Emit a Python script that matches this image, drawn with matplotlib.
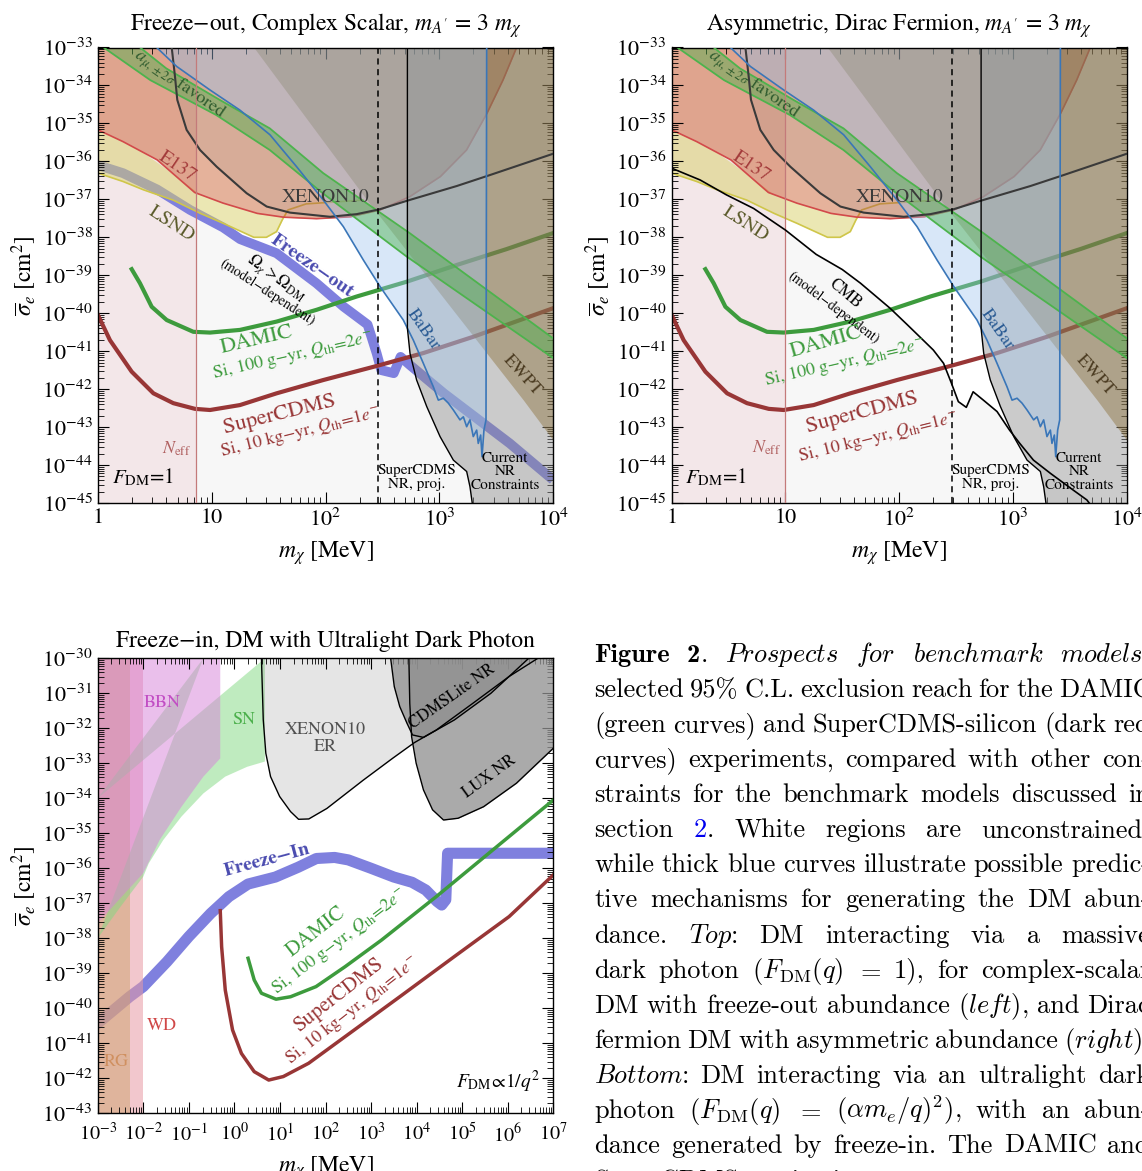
import matplotlib
matplotlib.use("Agg")
import matplotlib.pyplot as plt
from matplotlib.ticker import LogLocator, NullFormatter, FuncFormatter
import numpy as np

plt.rcParams["font.family"] = ["STIXGeneral", "DejaVu Serif"]
plt.rcParams["mathtext.fontset"] = "stix"
plt.rcParams["axes.linewidth"] = 1.0

W, H = 1142, 1171

# ---------------- top row: heavy dark photon, F_DM = 1 ----------------
# every curve is stored as log10(m_chi / MeV), log10(sigma_e / cm^2)
neff_scalar = 0.86
neff_dirac = 1.0
nr_proj_m = 2.465

e137_m = [0.00, 0.22, 0.52, 0.85, 1.10, 1.40, 1.63, 1.92, 2.22, 2.48, 2.74, 3.01, 3.24, 3.42, 3.56, 3.68]
e137_s = [-35.17, -35.48, -35.96, -36.82, -37.10, -37.37, -37.47, -37.51, -37.46, -37.28, -36.93, -36.40, -35.70, -34.73, -33.86, -33.00]

lsnd_m = [0.00, 0.22, 0.40, 0.66, 0.90, 1.10, 1.37, 1.48, 1.57, 1.62, 1.67, 1.83, 2.33]
lsnd_s = [-36.31, -36.53, -36.75, -37.02, -37.37, -37.63, -38.00, -38.00, -37.85, -37.54, -37.28, -37.12, -37.02]

amu_up_m = [0.37, 0.60, 1.07, 1.51, 1.98, 2.74, 4.00]
amu_up_s = [-33.00, -33.55, -34.38, -35.13, -36.31, -37.89, -40.66]
amu_lo_m = [0.05, 0.46, 1.04, 1.51, 1.98, 2.71, 4.00]
amu_lo_s = [-33.00, -33.86, -34.78, -35.70, -36.85, -38.50, -41.18]

xe_m = [0.648, 0.677, 0.697, 0.779, 0.897, 1.043, 1.190, 1.307, 1.483, 1.688, 2.040, 2.274, 2.479, 2.714, 3.153, 3.446, 4.000]
xe_s = [-33.00, -33.77, -34.38, -35.17, -35.70, -36.14, -36.53, -36.84, -37.19, -37.35, -37.46, -37.39, -37.26, -37.04, -36.65, -36.36, -35.80]

babar_m = [0.516, 0.692, 0.985, 1.248, 1.512, 1.746, 1.981, 2.157, 2.333,
           2.48, 2.684, 2.772, 2.860, 2.948, 2.992, 3.036, 3.080, 3.124, 3.182, 3.212,
           3.241, 3.270, 3.299, 3.329, 3.343, 3.364, 3.376, 3.393, 3.411, 3.417]
babar_s = [-33.00, -33.50, -34.12, -34.65, -35.30, -36.14, -37.02, -37.72, -38.60,
           -39.30, -40.18, -40.71, -41.32, -41.94, -42.29, -42.24, -42.37, -42.55, -42.81, -42.73,
           -42.99, -42.81, -43.25, -43.08, -43.43, -43.21, -43.78, -43.08, -42.81, -33.00]

ewpt_m = [1.37, 2.36, 3.74, 4.00]
ewpt_s = [-33.00, -37.00, -42.29, -43.34]

nr_m = [2.72, 2.72, 2.743, 2.801, 2.890, 3.007, 3.124, 3.241, 3.270, 3.29]
nr_s = [-33.00, -40.40, -41.06, -41.76, -42.46, -43.25, -43.87, -44.17, -44.57, -45.00]

fo_m = [0.00, 0.22, 0.52, 0.81, 1.10, 1.25, 1.57, 1.92, 2.16, 2.37, 2.45, 2.49, 2.60, 2.66, 2.74, 3.04, 3.33, 3.62, 4.00]
fo_s = [-36.10, -36.31, -36.74, -37.28, -37.74, -38.05, -38.42, -39.21, -39.83, -40.30, -41.06, -41.50, -41.58, -41.15, -41.36, -42.11, -42.77, -43.43, -44.39]

cmb_m = [0.00, 0.25, 0.48, 0.72, 1.00, 1.27, 1.50, 1.66, 1.92, 2.07, 2.18, 2.30, 2.39, 2.46, 2.52,
         2.59, 2.65, 2.74, 2.86, 2.97, 3.06, 3.18, 3.33, 3.53, 3.65, 3.67]
cmb_s = [-36.18, -36.49, -36.88, -37.24, -37.81, -38.45, -38.85, -39.21, -39.87, -40.30, -40.62, -40.97, -41.32, -41.85, -42.33,
         -42.48, -42.07, -42.29, -42.59, -43.08, -43.43, -43.87, -44.22, -44.66, -44.92, -45.00]

damic_m = [0.296, 0.369, 0.472, 0.604, 0.838, 0.985, 1.248, 1.571, 1.922, 2.274, 2.714, 3.153, 3.593, 4.000]
damic_s = [-38.84, -39.21, -39.83, -40.18, -40.49, -40.51, -40.44, -40.22, -39.91, -39.56, -39.17, -38.73, -38.31, -37.89]

cdms_m = [0.000, 0.105, 0.296, 0.487, 0.662, 0.853, 0.985, 1.248, 1.571, 1.981, 2.450, 2.860, 3.300, 4.000]
cdms_s = [-40.05, -40.71, -41.54, -42.11, -42.37, -42.52, -42.55, -42.42, -42.11, -41.76, -41.39, -41.05, -40.62, -39.87]

# ---------------- bottom row: ultralight dark photon, F_DM ~ 1/q^2 ----------------
rg_edge = -2.30
wd_edge = -2.00
bbn_edge = -0.31
sn_edge = 0.67

bbn_m = [-3.00, -2.50, -2.00, -1.64, -1.16, -0.68, -0.31]
bbn_s = [-37.57, -36.85, -36.14, -35.19, -34.24, -33.38, -32.86]
sn_lo_m = [-3.00, -2.50, -2.00, -1.88, -1.56, -1.16, -0.68, -0.20, 0.28, 0.67]
sn_lo_s = [-38.00, -37.10, -36.24, -35.86, -35.19, -34.52, -33.86, -33.38, -33.10, -32.95]
sn_hi_m = [-3.00, -0.68]
sn_hi_s = [-34.00, -30.00]

xer_m = [0.594, 0.634, 0.690, 0.794, 0.994, 1.233, 1.409, 1.633, 2.03, 2.83, 3.47, 3.95, 4.43, 5.23, 6.03, 6.66]
xer_s = [-30.00, -31.76, -32.71, -33.38, -33.95, -34.38, -34.60, -34.59, -34.29, -33.48, -32.86, -32.41, -32.05, -31.29, -30.52, -30.00]

lite_m = [3.43, 3.51, 3.63, 3.79, 3.91, 4.15, 4.83, 5.63, 6.46]
lite_s = [-30.00, -30.81, -31.38, -31.86, -32.19, -32.26, -31.76, -31.00, -30.00]

lux_m = [3.83, 3.85, 3.89, 3.99, 4.15, 4.35, 4.59, 4.91, 5.47, 6.19, 7.00]
lux_s = [-30.00, -31.29, -32.24, -33.00, -33.76, -34.33, -34.62, -34.57, -34.24, -33.57, -32.57]

fi_m = [-3.00, -2.30, -2.00, -1.48, -1.00, -0.52, -0.12, 0.30, 0.90, 1.40, 1.80, 2.20, 2.50, 3.00,
        3.50, 3.90, 4.20, 4.45, 4.55, 4.64, 4.68, 7.00]
fi_s = [-40.43, -39.67, -39.38, -38.67, -37.95, -37.29, -36.81, -36.45, -36.25, -35.97, -35.72, -35.69, -35.76, -36.00,
        -36.25, -36.40, -36.62, -36.95, -37.05, -36.90, -35.57, -35.57]

bd_m = [0.30, 0.435, 0.594, 0.914, 1.233, 1.792, 2.431, 3.23, 4.43, 7.00]
bd_s = [-38.57, -39.19, -39.57, -39.74, -39.67, -39.38, -38.81, -38.05, -36.81, -34.05]

bc_m = [-0.31, -0.28, -0.20, -0.04, 0.155, 0.435, 0.754, 1.074, 1.63, 2.43, 3.63, 4.83, 6.03, 7.00]
bc_s = [-37.21, -38.24, -39.48, -40.62, -41.29, -41.81, -42.05, -41.95, -41.57, -40.81, -39.67, -38.52, -37.38, -36.19]

GREEN = "#3d9b3d"
DRED = "#983636"
BLUE = "#7f80de"


def L(v):
    return np.power(10.0, np.asarray(v, dtype=float))


fig = plt.figure(figsize=(W / 100, H / 100), dpi=100)


def px_axes(x0, y0, x1, y1):
    return fig.add_axes([x0 / W, 1 - y1 / H, (x1 - x0) / W, (y1 - y0) / H])


def style(ax, xlo, xhi, ylo, yhi, xfmt=None, xsize=16, xpad=4):
    ax.set_xscale("log")
    ax.set_yscale("log")
    ax.set_xlim(L(xlo), L(xhi))
    ax.set_ylim(L(ylo), L(yhi))
    for a in (ax.xaxis, ax.yaxis):
        a.set_major_locator(LogLocator(base=10, numticks=40))
        a.set_minor_locator(LogLocator(base=10, subs=np.arange(2, 10), numticks=40))
        a.set_minor_formatter(NullFormatter())
    if xfmt is not None:
        ax.xaxis.set_major_formatter(FuncFormatter(xfmt))
    ax.tick_params(which="both", direction="in", top=True, right=True, labelsize=16, pad=4)
    ax.tick_params(axis="x", labelsize=xsize, pad=xpad)
    ax.tick_params(which="major", length=8, width=0.8)
    ax.tick_params(which="minor", length=4, width=0.6)
    ax.set_xlabel(r"$m_\chi$ [MeV]", fontsize=17, labelpad=6)
    ax.set_ylabel(r"$\overline{\sigma}_e$ [cm$^2$]", fontsize=17, labelpad=2)


def top_fmt(v, pos):
    e = int(round(np.log10(v)))
    return {0: "1", 1: "10"}.get(e, r"$10^{%d}$" % e)


def txt(ax, lm, ls, s, **kw):
    kw.setdefault("ha", "center")
    kw.setdefault("va", "center")
    kw.setdefault("zorder", 6)
    ax.text(L(lm), L(ls), s, rotation_mode="anchor", **kw)


def top_panel(ax, neff_m, model_m, model_s, freeze_line):
    top, bot = L(-33), L(-45)
    # region below the relic curve is lightly shaded, above stays white
    ax.fill_between(L(model_m), bot, L(model_s), color="#f7f7f7", lw=0, zorder=0.5)
    ax.axvspan(1, L(neff_m), color="#f3e7e9", lw=0, zorder=0.6)
    if freeze_line:
        ax.plot(L(model_m), L(model_s), color=BLUE, lw=7, solid_capstyle="butt", zorder=1.0)
    # LSND only shows below the E137 contour
    e137_at_lsnd = np.interp(lsnd_m, e137_m, e137_s)
    ax.fill_between(L(lsnd_m), L(lsnd_s), L(np.maximum(e137_at_lsnd, lsnd_s)),
                    color="#d9d169", alpha=0.5, lw=0, zorder=1.1)
    ax.plot(L(lsnd_m), L(lsnd_s), color="#cfc64a", lw=1.2, zorder=1.15)
    ax.fill_between(L(e137_m), L(e137_s), top, color="#c75421", alpha=0.45, lw=0, zorder=1.2)
    ax.plot(L(e137_m), L(e137_s), color="#d24a4a", lw=1.2, zorder=1.25)
    ax.fill_between(L(xe_m), L(xe_s), top, color="#8a8a8a", alpha=0.15, lw=0, zorder=1.3)

    ax.plot(L(damic_m), L(damic_s), color=GREEN, lw=3, zorder=2.0)
    ax.plot(L(cdms_m), L(cdms_s), color=DRED, lw=3, zorder=2.0)

    ax.fill(np.r_[L(nr_m), 1e4, 1e4], np.r_[L(nr_s), bot, top], color="#8c8c8c", alpha=0.45, lw=0, zorder=2.1)
    ax.fill_between(L(ewpt_m), L(ewpt_s), top, color="#806020", alpha=0.38, lw=0, zorder=2.2)
    ax.fill_between(L(babar_m), L(babar_s), top, color="#9ec4ee", alpha=0.4, lw=0, zorder=2.3)
    ax.fill(np.r_[L(amu_up_m), L(amu_lo_m)[::-1]], np.r_[L(amu_up_s), L(amu_lo_s)[::-1]],
            color="#4cb04c", alpha=0.45, lw=0, zorder=2.4)

    # boundaries
    ax.plot(L(amu_up_m), L(amu_up_s), color="#4db34d", lw=1.3, zorder=3)
    ax.plot(L(amu_lo_m), L(amu_lo_s), color="#4db34d", lw=1.3, zorder=3)
    ax.plot(L(xe_m), L(xe_s), color="#3a3a3a", lw=1.5, zorder=3)
    ax.plot(L(babar_m), L(babar_s), color="#3a76b8", lw=1.2, zorder=3)
    ax.plot(L(nr_m), L(nr_s), color="black", lw=1.0, zorder=3)
    ax.axvline(L(nr_proj_m), color="black", lw=1.1, ls=(0, (4, 3)), zorder=3)
    ax.axvline(L(neff_m), color="#c47a7a", lw=0.9, zorder=3)
    if not freeze_line:
        ax.plot(L(model_m), L(model_s), color="black", lw=1.2, zorder=3)

    txt(ax, 0.72, -33.99, r"$a_{\mu,\pm 2\sigma}$ favored", fontsize=13, color="#2d5a2d", rotation=-35)
    txt(ax, 0.70, -36.14, "E137", fontsize=14, color="#a33a3a", rotation=-34)
    txt(ax, 0.65, -37.65, "LSND", fontsize=14, color="#5a5a2a", rotation=-33)
    txt(ax, 2.00, -36.96, "XENON10", fontsize=14, color="#3a3a3a")
    txt(ax, 2.86, -40.44, "BaBar", fontsize=13, color="#2b5c94", rotation=-55)
    txt(ax, 3.725, -41.63, "EWPT", fontsize=13, color="#4a3a20", rotation=-48)
    txt(ax, 2.80, -44.32, "SuperCDMS\nNR, proj.", fontsize=11, linespacing=1.05)
    txt(ax, 3.58, -44.17, "Current\nNR\nConstraints", fontsize=11, linespacing=1.0)
    txt(ax, 0.12, -44.34, r"$F_{\rm DM}$=1", fontsize=15, ha="left")


# ---------------- top left ----------------
ax1 = px_axes(98, 47.5, 553, 503)
top_panel(ax1, neff_scalar, fo_m, fo_s, True)
style(ax1, 0, 4, -45, -33, top_fmt)
ax1.set_title("Freeze\u2212out, Complex Scalar, $m_{A'}$ = 3 $m_\\chi$", fontsize=17, pad=12)
txt(ax1, 0.686, -43.58, r"$N_{\rm eff}$", fontsize=13, color="#b06060")
txt(ax1, 1.884, -38.77, "Freeze\u2212out", fontsize=14, color="#4b4cb0", fontweight="bold", rotation=-35)
txt(ax1, 1.571, -39.08, r"$\Omega_\chi > \Omega_{\rm DM}$", fontsize=12, rotation=-36)
txt(ax1, 1.488, -39.45, "(model\u2212dependent)", fontsize=10, rotation=-33)
txt(ax1, 1.395, -40.71, "DAMIC", fontsize=16, color=GREEN, rotation=13)
txt(ax1, 1.715, -41.12, r"Si, 100 g$-$yr, $Q_{\rm th}$=2$e^{-}$", fontsize=13, color=GREEN, rotation=13)
txt(ax1, 1.60, -42.66, "SuperCDMS", fontsize=16, color=DRED, rotation=14)
txt(ax1, 1.776, -43.12, r"Si, 10 kg$-$yr, $Q_{\rm th}$=1$e^{-}$", fontsize=13, color=DRED, rotation=14)

# ---------------- top right ----------------
ax2 = px_axes(671.7, 47.5, 1126.7, 503)
top_panel(ax2, neff_dirac, cmb_m, cmb_s, False)
style(ax2, 0, 4, -45, -33, top_fmt)
ax2.set_title("Asymmetric, Dirac Fermion, $m_{A'}$ = 3 $m_\\chi$", fontsize=17, pad=12)
txt(ax2, 0.835, -43.55, r"$N_{\rm eff}$", fontsize=13, color="#b06060")
txt(ax2, 1.525, -39.48, "CMB", fontsize=12, rotation=-40)
txt(ax2, 1.42, -39.85, "(model\u2212dependent)", fontsize=10, rotation=-37)
txt(ax2, 1.357, -40.75, "DAMIC", fontsize=16, color=GREEN, rotation=16)
txt(ax2, 1.52, -41.30, r"Si, 100 g$-$yr, $Q_{\rm th}$=2$e^{-}$", fontsize=13, color=GREEN, rotation=13)
txt(ax2, 1.67, -42.63, "SuperCDMS", fontsize=16, color=DRED, rotation=15)
txt(ax2, 1.815, -43.26, r"Si, 10 kg$-$yr, $Q_{\rm th}$=1$e^{-}$", fontsize=13, color=DRED, rotation=14)

# ---------------- bottom ----------------
ax3 = px_axes(97.7, 658.3, 553.3, 1113.3)
b_top, b_bot = L(-30), L(-43)
ax3.plot(L(fi_m), L(fi_s), color=BLUE, lw=8, solid_joinstyle="round", zorder=1.0)
ax3.axvspan(L(-3), L(wd_edge), color="#e89aa4", alpha=0.55, lw=0, zorder=1.1)
ax3.axvspan(L(-3), L(rg_edge), color="#cea26d", alpha=0.5, lw=0, zorder=1.2)
ax3.fill(np.r_[L(sn_hi_m)[::-1], L(sn_edge), L(sn_lo_m)[::-1]],
         np.r_[L(sn_hi_s)[::-1], b_top, L(sn_lo_s)[::-1]],
         color="#81d981", alpha=0.5, lw=0, zorder=1.3)
ax3.fill(np.r_[L(-3), L(bbn_edge), L(bbn_m)[::-1]], np.r_[b_top, b_top, L(bbn_s)[::-1]],
         color="#d781d9", alpha=0.5, lw=0, zorder=1.35)
ax3.fill_between(L(xer_m), L(xer_s), b_top, color="#909090", alpha=0.23, lw=0, zorder=1.5)
ax3.fill_between(L(lite_m), L(lite_s), b_top, color="#909090", alpha=0.76, lw=0, zorder=1.55)
ax3.fill_between(L(lux_m), L(lux_s), b_top, color="#909090", alpha=0.76, lw=0, zorder=1.6)
for mm, ss in ((xer_m, xer_s), (lite_m, lite_s), (lux_m, lux_s)):
    ax3.plot(L(mm), L(ss), color="black", lw=1.0, zorder=3)
ax3.plot(L(bd_m), L(bd_s), color=GREEN, lw=2.5, zorder=2)
ax3.plot(L(bc_m), L(bc_s), color=DRED, lw=2.5, zorder=2)
style(ax3, -3, 7, -43, -30, xsize=14.5, xpad=6.5)
ax3.set_title("Freeze\u2212in, DM with Ultralight Dark Photon", fontsize=17, pad=8)

txt(ax3, -1.59, -31.27, "BBN", fontsize=13, color="#c24ec4")
txt(ax3, 0.20, -31.76, "SN", fontsize=13, color="#4cb04c")
txt(ax3, 2.00, -32.29, "XENON10\nER", fontsize=13, color="#505050", linespacing=1.05)
txt(ax3, 4.79, -31.10, "CDMSLite NR", fontsize=12, rotation=35)
txt(ax3, 5.59, -33.38, "LUX NR", fontsize=12, rotation=36)
txt(ax3, 0.72, -35.78, "Freeze\u2212In", fontsize=14, color="#4b4cb0", fontweight="bold", rotation=15)
txt(ax3, 1.79, -37.81, "DAMIC", fontsize=15, color=GREEN, rotation=38)
txt(ax3, 2.32, -38.10, r"Si, 100 g$-$yr, $Q_{\rm th}$=2$e^{-}$", fontsize=13, color=GREEN, rotation=37)
txt(ax3, 2.28, -39.62, "SuperCDMS", fontsize=15, color=DRED, rotation=38)
txt(ax3, 2.60, -40.05, r"Si, 10 kg$-$yr, $Q_{\rm th}$=1$e^{-}$", fontsize=13, color=DRED, rotation=38)
txt(ax3, -1.59, -40.50, "WD", fontsize=13, color="#d04848")
txt(ax3, -2.59, -41.52, "RG", fontsize=13, color="#d09060")
txt(ax3, 5.79, -42.10, r"$F_{\rm DM}\!\propto\!1/q^2$", fontsize=14)

# ---------------- caption, justified to the column ----------------
cap_x0, cap_x1 = 594, 1150
cap_base, cap_step = 662, 35.07
cap_lines = [
    [[("Figure", "black", "cmb10")], [("2", "black", "cmb10"), (".", "black", "cmr10")],
     r"$\mathit{Prospects}$", r"$\mathit{for}$", r"$\mathit{benchmark}$", r"$\mathit{models,}$"],
    "selected 95% C.L. exclusion reach for the DAMIC".split(),
    "(green curves) and SuperCDMS-silicon (dark red".split(),
    "curves) experiments, compared with other con-".split(),
    "straints for the benchmark models discussed in".split(),
    ["section", [("2", "#0000ee", "cmr10"), (".", "black", "cmr10")], "White", "regions", "are", "unconstrained,"],
    "while thick blue curves illustrate possible predic-".split(),
    "tive mechanisms for generating the DM abun-".split(),
    ["dance.", r"$\mathit{Top}$:", "DM", "interacting", "via", "a", "massive"],
    ["dark", "photon", r"$(F_{\rm DM}(q)$", "$=$", "1),", "for", "complex-scalar"],
    ["DM", "with", "freeze-out", "abundance", r"$(\mathit{left})$,", "and", "Dirac"],
    ["fermion", "DM", "with", "asymmetric", "abundance", r"$(\mathit{right})$."],
    [r"$\mathit{Bottom}$:", "DM", "interacting", "via", "an", "ultralight", "dark"],
    ["photon", r"$(F_{\rm DM}(q)$", "$=$", r"$(\alpha m_e/q)^2$),", "with", "an", "abun-"],
    "dance generated by freeze-in. The DAMIC and".split(),
    "SuperCDMS projections assume 100 g-yr and".split(),
]

rend = fig.canvas.get_renderer()
for i, words in enumerate(cap_lines):
    yb = 1 - (cap_base + i * cap_step) / H
    placed = []
    total = 0.0
    for w in words:
        segs = w if isinstance(w, list) else [(w, "black", "cmr10")]
        objs = []
        for s, c, fam in segs:
            t = fig.text(0.6, yb, s, fontsize=19, family=fam, math_fontfamily="cm",
                         color=c, ha="left", va="baseline")
            wd = t.get_window_extent(renderer=rend).width
            objs.append((t, wd))
            total += wd
        placed.append(objs)
    gap = (cap_x1 - cap_x0 - total) / max(len(placed) - 1, 1)
    gap = max(gap, 6)
    x = cap_x0
    for objs in placed:
        for t, wd in objs:
            t.set_x(x / W)
            x += wd
        x += gap

fig.savefig("out.png", dpi=100)
